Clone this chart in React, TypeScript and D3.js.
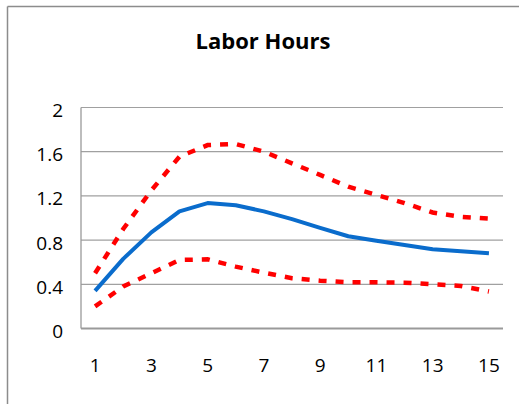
import React from "react";
import * as d3 from "d3";

const periods = [1, 2, 3, 4, 5, 6, 7, 8, 9, 10, 11, 12, 13, 14, 15];
const response = [0.34, 0.63, 0.87, 1.06, 1.135, 1.115, 1.06, 0.99, 0.91, 0.835, 0.795, 0.755, 0.717, 0.7, 0.68];
const upperBand = [0.5, 0.9, 1.25, 1.555, 1.66, 1.67, 1.6, 1.495, 1.39, 1.283, 1.21, 1.135, 1.05, 1.01, 0.995];
const lowerBand = [0.2, 0.38, 0.5, 0.62, 0.626, 0.56, 0.505, 0.455, 0.433, 0.418, 0.418, 0.415, 0.4, 0.385, 0.335];
const yTicks = [0, 0.4, 0.8, 1.2, 1.6, 2];
const xTickLabels = [1, 3, 5, 7, 9, 11, 13, 15];
const title = "Labor Hours";

const W = 519;
const H = 404;
const left = 81;
const right = 503;
const top = 107.5;
const bottom = 328.5;

export default function App() {
  const x = d3.scalePoint<number>().domain(periods).range([left, right]).padding(0.5);
  const y = d3.scaleLinear().domain([0, 2]).range([bottom, top]);
  const line = d3
    .line<number>()
    .x((_, i) => x(periods[i]) as number)
    .y((d) => y(d));
  const font = "'Open Sans', 'Noto Sans', sans-serif";
  return (
    <svg
      width={W}
      height={H}
      style={{ position: "absolute", left: 0, top: 0, background: "#fff" }}
      fontFamily={font}
    >
      <rect x={0} y={0} width={W} height={H} fill="#fff" />
      <line x1={7.5} y1={6.5} x2={W} y2={6.5} stroke="#8c8c8c" strokeWidth={1.5} />
      <line x1={7.5} y1={6.5} x2={7.5} y2={H} stroke="#8c8c8c" strokeWidth={1.5} />
      <text x={263} y={49} textAnchor="middle" fontWeight="bold" fontSize={22} fill="#000">
        {title}
      </text>
      {yTicks.map((t) => (
        <g key={t}>
          <line
            x1={left}
            x2={right}
            y1={y(t)}
            y2={y(t)}
            stroke={t === 0 ? "#9a9a9a" : "#a0a0a0"}
            strokeWidth={t === 0 ? 1.8 : 1.2}
          />
          <text x={63} y={y(t) + 9.5} textAnchor="end" fontSize={19} fill="#000">
            {String(t)}
          </text>
        </g>
      ))}
      <line x1={left} x2={left} y1={top} y2={bottom} stroke="#9a9a9a" strokeWidth={1.3} />
      {xTickLabels.map((t) => (
        <text key={t} x={x(t) as number} y={372} textAnchor="middle" fontSize={19} fill="#000">
          {t}
        </text>
      ))}
      <path
        d={line(upperBand) || ""}
        fill="none"
        stroke="#ff0000"
        strokeWidth={4.5}
        strokeDasharray="8 9"
      />
      <path
        d={line(lowerBand) || ""}
        fill="none"
        stroke="#ff0000"
        strokeWidth={4.5}
        strokeDasharray="8 9"
      />
      <path
        d={line(response) || ""}
        fill="none"
        stroke="#0a6ccc"
        strokeWidth={4}
        strokeLinejoin="round"
      />
    </svg>
  );
}
